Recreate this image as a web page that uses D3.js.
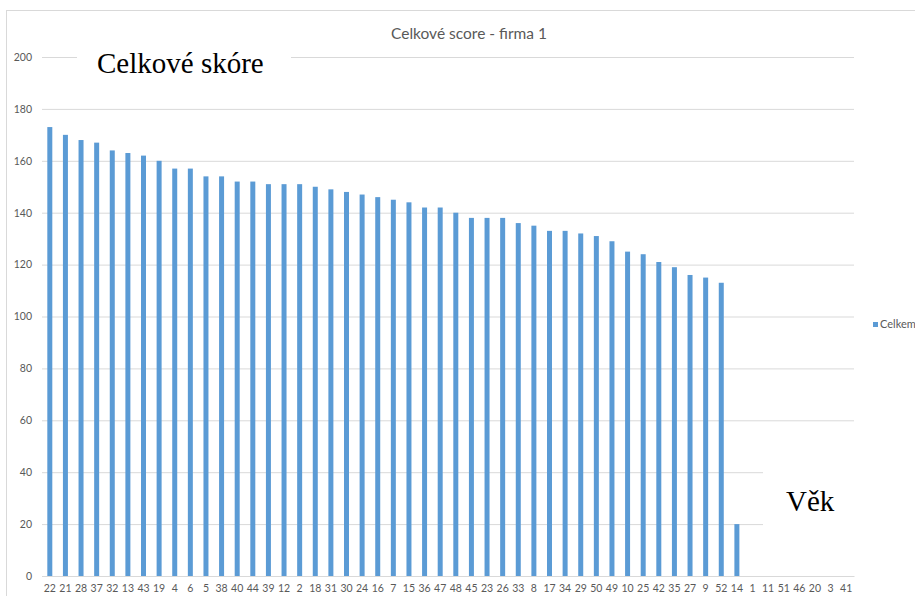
<!DOCTYPE html>
<html>
<head>
<meta charset="utf-8">
<script src="https://cdn.jsdelivr.net/npm/d3@7"></script>
<style>
body { margin: 0; background: #fff; }
svg { display: block; }
</style>
</head>
<body>
<svg id="chart" width="915" height="596"></svg>
<script>
// poradi respondentu (osa x)
var categories = ["22","21","28","37","32","13","43","19","4","6","5","38","40","44","39","12","2","18","31","30",
  "24","16","7","15","36","47","48","45","23","26","33","8","17","34","29","50","49","10","25","42",
  "35","27","9","52","14","1","11","51","46","20","3","41"];
// celkove score
var celkem = [173,170,168,167,164,163,162,160,157,157,154,154,152,152,151,151,151,150,149,148,
  147,146,145,144,142,142,140,138,138,138,136,135,133,133,132,131,129,125,124,121,
  119,116,115,113,20,0,0,0,0,0,0,0];
var yTicks = [0,20,40,60,80,100,120,140,160,180,200];
var seriesName = "Celkem";
var title = "Celkové score - firma 1";

var svg = d3.select("#chart");
var plotLeft = 42, plotRight = 854, plotTop = 57, plotBottom = 576;
var font = "Lato, 'Open Sans', sans-serif";

// ramecek grafu
svg.append("rect")
  .attr("x", 6.5).attr("y", 10.5)
  .attr("width", 1000).attr("height", 1000)
  .attr("fill", "none").attr("stroke", "#d9d9d9");

var x = d3.scaleBand().domain(categories).range([plotLeft, plotRight]).paddingInner(0.68).paddingOuter(0.34);
var y = d3.scaleLinear().domain([0, 200]).range([plotBottom, plotTop]);

// mrizka
svg.append("g")
  .attr("transform", "translate(" + plotLeft + ",0)")
  .call(d3.axisLeft(y).tickValues(yTicks).tickSize(-(plotRight - plotLeft)).tickFormat(""))
  .call(function(g) { g.select(".domain").remove(); })
  .selectAll("line").attr("stroke", "#d9d9d9");

// popisky osy y
svg.append("g")
  .attr("transform", "translate(" + (plotLeft - 10) + ",0)")
  .call(d3.axisLeft(y).tickValues(yTicks).tickSize(0).tickPadding(0))
  .call(function(g) { g.select(".domain").remove(); })
  .selectAll("text")
    .attr("fill", "#595959")
    .style("font-family", font)
    .style("font-size", "10.5px");

// sloupce
svg.append("g").selectAll("rect")
  .data(celkem)
  .enter().append("rect")
    .attr("x", function(d, i) { return x(categories[i]); })
    .attr("width", x.bandwidth())
    .attr("y", function(d) { return y(d); })
    .attr("height", function(d) { return y(0) - y(d); })
    .attr("fill", "#5b9bd5");

// osa x
svg.append("g")
  .attr("transform", "translate(0," + plotBottom + ")")
  .call(d3.axisBottom(x).tickSize(0).tickPadding(9))
  .call(function(g) { g.select(".domain").attr("stroke", "#d9d9d9"); })
  .selectAll("text")
    .attr("fill", "#595959")
    .style("font-family", font)
    .style("font-size", "10.5px");

// titulek
svg.append("text")
  .attr("x", 469).attr("y", 39)
  .attr("text-anchor", "middle")
  .attr("fill", "#595959")
  .style("font-family", font)
  .style("font-size", "15.5px")
  .text(title);

// legenda
svg.append("rect").attr("x", 873).attr("y", 322).attr("width", 5).attr("height", 5).attr("fill", "#5b9bd5");
svg.append("text")
  .attr("x", 880).attr("y", 328)
  .attr("fill", "#595959")
  .style("font-family", font)
  .style("font-size", "11px")
  .text(seriesName);

// vlozene textove ramecky
svg.append("rect").attr("x", 77).attr("y", 40).attr("width", 214).attr("height", 42).attr("fill", "#fff");
svg.append("text")
  .attr("x", 97).attr("y", 73)
  .style("font-family", "'Liberation Serif', 'Times New Roman', serif")
  .style("font-size", "29px")
  .attr("fill", "#000")
  .text("Celkové skóre");

svg.append("rect").attr("x", 763).attr("y", 445).attr("width", 100).attr("height", 110).attr("fill", "#fff");
svg.append("text")
  .attr("x", 786).attr("y", 511)
  .style("font-family", "'Liberation Serif', 'Times New Roman', serif")
  .style("font-size", "29px")
  .attr("fill", "#000")
  .text("Věk");
</script>
</body>
</html>
